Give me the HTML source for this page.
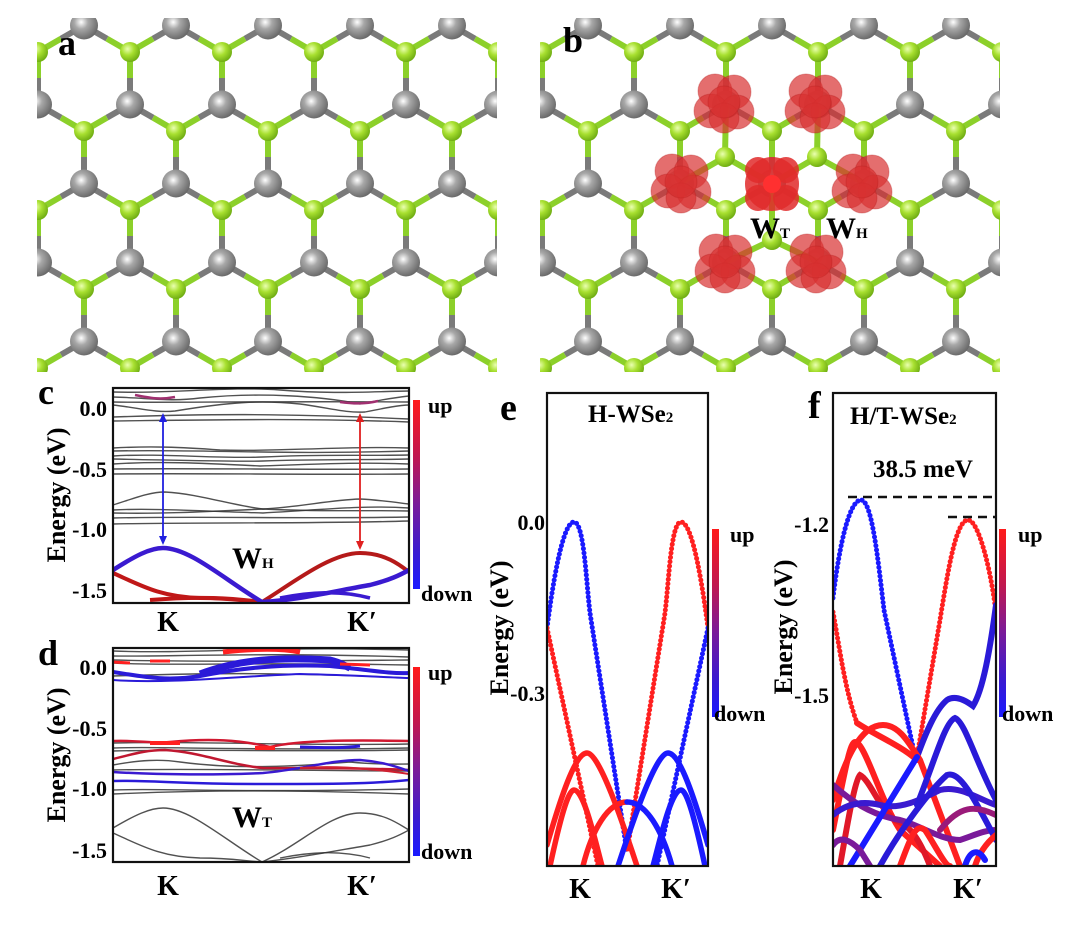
<!DOCTYPE html>
<html><head><meta charset="utf-8"><style>
html,body{margin:0;padding:0;background:#fff;}
svg{display:block;}
text{font-family:"Liberation Serif",serif;font-weight:bold;fill:#000;}
</style></head><body>
<svg width="1080" height="932" viewBox="0 0 1080 932" xmlns="http://www.w3.org/2000/svg">
<defs>
<radialGradient id="gg" cx="0.38" cy="0.35" r="0.7">
<stop offset="0" stop-color="#eaffb0"/><stop offset="0.45" stop-color="#a8e030"/><stop offset="1" stop-color="#6aa810"/></radialGradient>
<radialGradient id="gr" cx="0.4" cy="0.38" r="0.7">
<stop offset="0" stop-color="#ffffff"/><stop offset="0.35" stop-color="#a8a8a8"/><stop offset="1" stop-color="#5e5e5e"/></radialGradient>
<g id="tile">
 <g stroke-width="6" fill="none">
  <line x1="0" y1="0" x2="0" y2="26" stroke="#8cd02a"/><line x1="0" y1="26" x2="0" y2="52.5" stroke="#7a7a7a"/>
  <line x1="92" y1="0" x2="92" y2="26" stroke="#8cd02a"/><line x1="92" y1="26" x2="92" y2="52.5" stroke="#7a7a7a"/>
  <line x1="0" y1="52.5" x2="23" y2="65.6" stroke="#7a7a7a"/><line x1="23" y1="65.6" x2="46" y2="79" stroke="#8cd02a"/>
  <line x1="92" y1="52.5" x2="69" y2="65.6" stroke="#7a7a7a"/><line x1="69" y1="65.6" x2="46" y2="79" stroke="#8cd02a"/>
  <line x1="92" y1="52.5" x2="115" y2="65.6" stroke="#7a7a7a"/>
  <line x1="0" y1="52.5" x2="-23" y2="65.6" stroke="#7a7a7a"/>
  <line x1="46" y1="79" x2="46" y2="105" stroke="#8cd02a"/><line x1="46" y1="105" x2="46" y2="131.5" stroke="#7a7a7a"/>
  <line x1="46" y1="131.5" x2="23" y2="144.7" stroke="#7a7a7a"/><line x1="23" y1="144.7" x2="0" y2="158" stroke="#8cd02a"/>
  <line x1="46" y1="131.5" x2="69" y2="144.7" stroke="#7a7a7a"/><line x1="69" y1="144.7" x2="92" y2="158" stroke="#8cd02a"/>
  <line x1="46" y1="-26.5" x2="23" y2="-13.3" stroke="#7a7a7a"/><line x1="23" y1="-13.3" x2="0" y2="0" stroke="#8cd02a"/>
  <line x1="46" y1="-26.5" x2="69" y2="-13.3" stroke="#7a7a7a"/><line x1="69" y1="-13.3" x2="92" y2="0" stroke="#8cd02a"/>
 </g>
 <circle cx="0" cy="52.5" r="14" fill="url(#gr)"/><circle cx="92" cy="52.5" r="14" fill="url(#gr)"/>
 <circle cx="46" cy="131.5" r="14" fill="url(#gr)"/><circle cx="46" cy="-26.5" r="14" fill="url(#gr)"/>
 <circle cx="0" cy="0" r="10" fill="url(#gg)"/><circle cx="92" cy="0" r="10" fill="url(#gg)"/>
 <circle cx="0" cy="158" r="10" fill="url(#gg)"/><circle cx="92" cy="158" r="10" fill="url(#gg)"/>
 <circle cx="46" cy="79" r="10" fill="url(#gg)"/>
</g>
<pattern id="patA" patternUnits="userSpaceOnUse" x="130" y="52" width="92" height="158"><use href="#tile"/></pattern>
<pattern id="patB" patternUnits="userSpaceOnUse" x="634" y="52" width="92" height="158"><use href="#tile"/></pattern>
<linearGradient id="cb" x1="0" y1="0" x2="0" y2="1">
<stop offset="0" stop-color="#ff1a1a"/><stop offset="0.3" stop-color="#c01850"/><stop offset="0.55" stop-color="#7a1a9a"/><stop offset="0.8" stop-color="#3a1ad0"/><stop offset="1" stop-color="#1a1aff"/></linearGradient>
<clipPath id="clc"><rect x="113" y="388" width="296" height="215"/></clipPath>
<clipPath id="cld"><rect x="113" y="648" width="296" height="214"/></clipPath>
<clipPath id="cle"><rect x="547" y="393" width="161" height="473"/></clipPath>
<clipPath id="clf"><rect x="833" y="393" width="163" height="473"/></clipPath>
<g id="blob">
 <circle cx="-9" cy="-13" r="17"/><circle cx="10" cy="-12" r="17"/><circle cx="-13" cy="7" r="17"/><circle cx="13" cy="8" r="17"/><circle cx="0" cy="14" r="15"/><circle cx="0" cy="-2" r="16"/>
</g>
</defs>

<!-- Panel a -->
<rect x="37" y="18" width="460" height="354" fill="url(#patA)"/>
<text x="58" y="55" font-size="36">a</text>

<!-- Panel b -->
<rect x="540" y="18" width="460" height="354" fill="url(#patB)"/>
<g stroke="#8cd02a" stroke-width="6">
 <line x1="772" y1="183.5" x2="725" y2="157"/><line x1="772" y1="183.5" x2="817" y2="157"/><line x1="772" y1="183.5" x2="772" y2="240"/>
 <line x1="725" y1="157" x2="726" y2="105"/><line x1="817" y1="157" x2="818" y2="105"/>
 <line x1="725" y1="157" x2="680" y2="183"/><line x1="817" y1="157" x2="864" y2="183"/>
 <line x1="772" y1="240" x2="726" y2="262"/><line x1="772" y1="240" x2="818" y2="262"/>
</g>
<circle cx="725" cy="157" r="10" fill="url(#gg)"/><circle cx="817" cy="157" r="10" fill="url(#gg)"/><circle cx="772" cy="240" r="10" fill="url(#gg)"/>
<g fill="#d83030" fill-opacity="0.7" stroke="#b82020" stroke-opacity="0.35">
 <use href="#blob" x="724" y="104"/><use href="#blob" x="815" y="104"/>
 <use href="#blob" x="681" y="184"/><use href="#blob" x="862" y="184"/>
 <use href="#blob" x="725" y="264"/><use href="#blob" x="816" y="264"/>
</g>
<g fill="#e02a2a" fill-opacity="0.85">
 <circle cx="772" cy="184" r="27"/><circle cx="758" cy="170" r="13"/><circle cx="786" cy="170" r="13"/><circle cx="758" cy="198" r="13"/><circle cx="786" cy="198" r="13"/>
</g>
<circle cx="772" cy="184" r="9" fill="#ff3030"/>
<text x="563" y="52" font-size="36">b</text>
<text x="750" y="238" font-size="30">W<tspan font-size="15">T</tspan></text>
<text x="826" y="238" font-size="30">W<tspan font-size="15">H</tspan></text>

<!-- Panel c -->
<g clip-path="url(#clc)" fill="none">
 <g stroke="#333" stroke-width="1.4" stroke-opacity="0.85">
  <path d="M113,392 C170,394 230,386 280,390 C330,394 360,392 409,391"/>
  <path d="M113,397 C150,398 170,402 200,398 C260,392 320,396 360,404 C380,400 400,397 409,396"/>
  <path d="M113,402 C160,403 260,401 409,402"/>
  <path d="M113,405 C140,408 155,413 175,411 C230,402 260,400 300,404 C330,408 345,413 365,412 C385,408 400,405 409,405"/>
  <path d="M113,417 C200,414 280,413 409,419"/>
  <path d="M113,421 C200,420 300,418 409,422"/>
  <path d="M113,448 C150,446 180,447 220,450 C280,452 330,446 409,448"/>
  <path d="M113,451 C200,449 280,455 409,451"/>
  <path d="M113,456 C160,453 220,459 263,457 C320,454 360,456 409,455"/>
  <path d="M113,459 C170,460 230,462 263,461 C320,459 370,460 409,459"/>
  <path d="M113,464 C160,461 200,463 260,466 C320,464 360,462 409,464"/>
  <path d="M113,469 C200,468 300,470 409,469"/>
  <path d="M113,474 C200,473 300,475 409,474"/>
  <path d="M113,505 C135,498 150,492 165,492 C200,494 230,505 263,509 C300,507 330,500 360,499 C380,500 400,503 409,504"/>
  <path d="M113,510 C150,508 200,511 263,513 C320,510 360,505 409,508"/>
  <path d="M113,513 C160,514 200,512 263,509 C320,512 360,510 409,511"/>
  <path d="M113,518 C200,516 300,519 409,517"/>
  <path d="M113,524 C200,522 300,524 409,521"/>
 </g>
 <g stroke="#a03070" stroke-width="2.5">
  <path d="M135,395 C150,398 160,400 175,397"/><path d="M340,402 C355,404 365,404 378,401"/>
 </g>
 <path d="M113,573 C140,585 160,597 200,598 C230,598 245,601 262,602" stroke="#c01818" stroke-width="4"/>
 <path d="M150,600 C200,596 230,598 262,602" stroke="#c01818" stroke-width="4"/>
 <path d="M262,602 C290,585 330,553 360,553 C385,553 400,565 409,572" stroke="#b51a1a" stroke-width="4"/>
 <path d="M113,570 C135,556 150,548 163,548 C190,548 225,580 262,602" stroke="#3a1ad0" stroke-width="4.5"/>
 <path d="M262,602 C300,600 340,590 370,585 C390,580 400,575 409,570" stroke="#3a1ad0" stroke-width="4.5"/>
 <path d="M280,598 C310,592 340,590 370,598" stroke="#3a1ad0" stroke-width="3.5"/>
</g>
<rect x="113" y="388" width="296" height="215" fill="none" stroke="#111" stroke-width="2.2"/>
<g stroke-width="1.8">
 <line x1="163" y1="416" x2="163" y2="542" stroke="#2020e0"/>
 <path d="M159,422 L163,413 L167,422 Z M159,536 L163,545 L167,536 Z" fill="#2020e0" stroke="none"/>
 <line x1="360" y1="416" x2="360" y2="547" stroke="#e02020"/>
 <path d="M356,422 L360,413 L364,422 Z M356,541 L360,550 L364,541 Z" fill="#e02020" stroke="none"/>
</g>
<text x="232" y="568" font-size="30">W<tspan font-size="15">H</tspan></text>
<text x="38" y="404" font-size="36">c</text>
<g font-size="22" text-anchor="end"><text x="107" y="416">0.0</text><text x="107" y="477">-0.5</text><text x="107" y="537">-1.0</text><text x="107" y="598">-1.5</text></g>
<text transform="translate(65,495) rotate(-90)" font-size="26" text-anchor="middle">Energy (eV)</text>
<rect x="413" y="400" width="7" height="189" fill="url(#cb)"/>
<text x="428" y="413" font-size="22">up</text><text x="421" y="601" font-size="22">down</text>
<text x="168" y="631" font-size="28" text-anchor="middle">K</text>
<text x="362" y="631" font-size="28" text-anchor="middle">K′</text>

<!-- Panel d -->
<g clip-path="url(#cld)" fill="none">
 <g stroke="#333" stroke-width="1.4" stroke-opacity="0.85">
  <path d="M113,651 C200,654 260,646 409,650"/>
  <path d="M113,656 C160,657 260,652 409,657"/>
  <path d="M113,660 C200,662 300,661 409,660"/>
  <path d="M113,663 C170,666 250,662 409,665"/>
  <path d="M113,676 C200,673 280,672 409,678"/>
  <path d="M113,743 C200,741 300,746 409,744"/>
  <path d="M113,748 C160,746 240,751 409,748"/>
  <path d="M113,751 C200,749 300,752 409,750"/>
  <path d="M113,765 C140,760 160,759 180,762 C240,770 300,766 350,762 C380,765 400,764 409,764"/>
  <path d="M113,770 C200,768 300,771 409,771"/>
  <path d="M113,790 C160,788 240,793 409,789"/>
  <path d="M113,794 C200,790 300,790 409,794"/>
  <path d="M113,828 C135,815 150,808 163,808 C190,808 225,840 262,862 C300,845 330,813 360,813 C385,813 400,825 409,830"/>
  <path d="M113,833 C140,845 160,857 200,858 C230,858 245,861 262,862"/>
  <path d="M262,862 C300,858 340,850 370,845 C390,840 400,835 409,830"/>
  <path d="M280,858 C310,852 340,850 370,858"/>
 </g>
 <path d="M113,672 C150,678 170,681 200,676 C240,668 280,664 330,666 C370,670 390,674 409,673" stroke="#2a1ad8" stroke-width="4"/>
 <path d="M200,674 C240,659 280,657 330,660 C340,662 345,666 350,668" stroke="#2a1ad8" stroke-width="7"/>
 <path d="M113,680 C170,684 240,676 300,674 C350,675 380,677 409,678" stroke="#2a1ad8" stroke-width="2"/>
 <path d="M223,652 C250,649 280,648 300,652" stroke="#ff2020" stroke-width="5"/>
 <path d="M150,661 L170,661 M340,664 L370,665 M113,662 L130,663" stroke="#ff2020" stroke-width="3"/>
 <path d="M113,741 C140,740 150,744 170,742 C210,738 240,740 270,747 C300,740 350,740 409,741" stroke="#d01830" stroke-width="2.5"/>
 <path d="M150,743 L180,743 M255,748 L275,748" stroke="#ff2020" stroke-width="4"/>
 <path d="M300,747 C330,748 345,748 360,746" stroke="#2a1ad8" stroke-width="3"/>
 <path d="M113,759 C140,752 150,750 165,750 C200,752 230,765 263,768 C320,768 360,768 409,770" stroke="#c01830" stroke-width="2.5"/>
 <path d="M113,772 C160,775 220,775 263,773 C300,770 330,760 360,760 C385,762 400,768 409,771" stroke="#3a1ad0" stroke-width="2.5"/>
 <path d="M300,768 C330,766 360,767 409,774" stroke="#d02030" stroke-width="2"/>
 <path d="M113,781 C150,780 180,784 263,784 C330,784 370,784 409,780" stroke="#2a1ad8" stroke-width="2.5"/>
</g>
<rect x="113" y="648" width="296" height="214" fill="none" stroke="#111" stroke-width="2.2"/>
<text x="232" y="827" font-size="30">W<tspan font-size="15">T</tspan></text>
<text x="38" y="665" font-size="36">d</text>
<g font-size="22" text-anchor="end"><text x="107" y="675">0.0</text><text x="107" y="736">-0.5</text><text x="107" y="796">-1.0</text><text x="107" y="858">-1.5</text></g>
<text transform="translate(65,755) rotate(-90)" font-size="26" text-anchor="middle">Energy (eV)</text>
<rect x="413" y="667" width="7" height="189" fill="url(#cb)"/>
<text x="428" y="680" font-size="22">up</text><text x="421" y="859" font-size="22">down</text>
<text x="168" y="895" font-size="28" text-anchor="middle">K</text>
<text x="362" y="895" font-size="28" text-anchor="middle">K′</text>

<!-- Panel e -->
<g clip-path="url(#cle)" fill="none" stroke-linecap="round">
 <g stroke-dasharray="0.1 4.3" stroke-width="5">
  <path d="M547,628 C552,590 562,522 574,522 C584,522 586,580 590,613 L627,852" stroke="#1a1aff"/>
  <path d="M708,628 C703,590 693,522 681,522 C671,522 669,580 665,613 L627,852" stroke="#ff2020"/>
  <path d="M547,628 L598,866" stroke="#ff2020"/>
  <path d="M708,628 L657,866" stroke="#1a1aff"/>
 </g>
 <g stroke-width="5.5">
  <path d="M547,845 C560,800 575,753 587,753 C600,753 625,830 637,866" stroke="#ff2020"/>
  <path d="M550,866 C560,820 568,790 574,790 C584,790 595,840 602,866" stroke="#ff2020"/>
  <path d="M583,866 C592,830 608,802 627,802" stroke="#ff2020"/>
  <path d="M627,802 C646,802 662,830 672,866" stroke="#1a1aff"/>
  <path d="M708,845 C695,800 680,753 668,753 C655,753 630,830 618,866" stroke="#1a1aff"/>
  <path d="M705,866 C695,820 687,790 681,790 C671,790 660,840 653,866" stroke="#1a1aff"/>
 </g>
</g>
<rect x="547" y="393" width="161" height="473" fill="none" stroke="#111" stroke-width="2.2"/>
<text x="500" y="420" font-size="38">e</text>
<text x="588" y="422" font-size="25">H-WSe<tspan font-size="15">2</tspan></text>
<g font-size="22" text-anchor="end"><text x="545" y="530">0.0</text><text x="545" y="701">-0.3</text></g>
<text transform="translate(508,628) rotate(-90)" font-size="26" text-anchor="middle">Energy (eV)</text>
<rect x="712" y="529" width="7" height="188" fill="url(#cb)"/>
<text x="730" y="542" font-size="22">up</text><text x="714" y="721" font-size="22">down</text>
<text x="580" y="898" font-size="28" text-anchor="middle">K</text>
<text x="676" y="898" font-size="28" text-anchor="middle">K′</text>

<!-- Panel f -->
<g clip-path="url(#clf)" fill="none" stroke-linecap="round">
 <g stroke-dasharray="0.1 4.3" stroke-width="5">
  <path d="M833,598 C840,540 850,500 861,500 C872,500 878,560 884,610 L914,752" stroke="#1a1aff"/>
  <path d="M996,612 C990,565 978,520 968,520 C956,520 948,570 940,620 L917,757" stroke="#ff2020"/>
  <path d="M833,612 C840,650 845,690 857,723" stroke="#ff2020"/>
 </g>
 <g stroke-width="6">
  <path d="M857,723 C875,735 900,745 917,760" stroke="#ff2020"/>
  <path d="M996,605 C990,650 983,690 973,706 C965,700 955,695 947,700 C935,710 925,735 917,757" stroke="#2a1ad8"/>
  <path d="M833,800 C845,760 860,725 883,725 C900,725 910,745 920,760 L960,866" stroke="#ff2020"/>
  <path d="M833,830 C845,770 850,742 855,742 C865,742 880,800 900,830 L940,866" stroke="#ff2020"/>
  <path d="M840,866 C848,820 855,780 860,775 C870,780 880,810 895,820 C910,825 920,840 930,866" stroke="#e01828"/>
  <path d="M833,785 C850,800 870,815 900,820 C920,825 940,840 960,840 C975,835 985,830 996,830" stroke="#7a1a9a"/>
  <path d="M833,815 C845,805 860,800 880,805 C900,810 920,800 940,790 C960,785 980,800 996,805" stroke="#3a1ad0"/>
  <path d="M850,866 L917,757" stroke="#1a1aff"/>
  <path d="M880,866 C900,830 930,790 947,775 C960,770 975,800 996,840" stroke="#2a1ad8"/>
  <path d="M917,805 C935,760 945,722 955,718 C965,722 975,760 996,800" stroke="#2a1ad8"/>
  <path d="M940,830 C960,805 975,805 996,815" stroke="#9a1a7a"/>
  <path d="M900,866 C910,840 915,822 925,830 C935,845 945,866 950,866" stroke="#ff2020"/>
  <path d="M975,866 C980,850 990,840 996,835" stroke="#ff2020"/>
  <path d="M833,845 C840,835 850,840 860,850 L870,866" stroke="#7a1a9a"/>
  <path d="M965,866 C970,850 978,848 985,860" stroke="#1a1aff"/>
 </g>
</g>
<rect x="833" y="393" width="163" height="473" fill="none" stroke="#111" stroke-width="2.2"/>
<line x1="848" y1="497" x2="996" y2="497" stroke="#111" stroke-width="2.5" stroke-dasharray="9 6"/>
<line x1="948" y1="517" x2="996" y2="517" stroke="#111" stroke-width="2.5" stroke-dasharray="9 6"/>
<text x="808" y="418" font-size="38">f</text>
<text x="850" y="424" font-size="25">H/T-WSe<tspan font-size="15">2</tspan></text>
<text x="923" y="477" font-size="25" text-anchor="middle">38.5 meV</text>
<g font-size="22" text-anchor="end"><text x="829" y="532">-1.2</text><text x="829" y="703">-1.5</text></g>
<text transform="translate(792,627) rotate(-90)" font-size="26" text-anchor="middle">Energy (eV)</text>
<rect x="999" y="529" width="7" height="188" fill="url(#cb)"/>
<text x="1018" y="542" font-size="22">up</text><text x="1002" y="721" font-size="22">down</text>
<text x="871" y="898" font-size="28" text-anchor="middle">K</text>
<text x="968" y="898" font-size="28" text-anchor="middle">K′</text>
</svg>
</body></html>
